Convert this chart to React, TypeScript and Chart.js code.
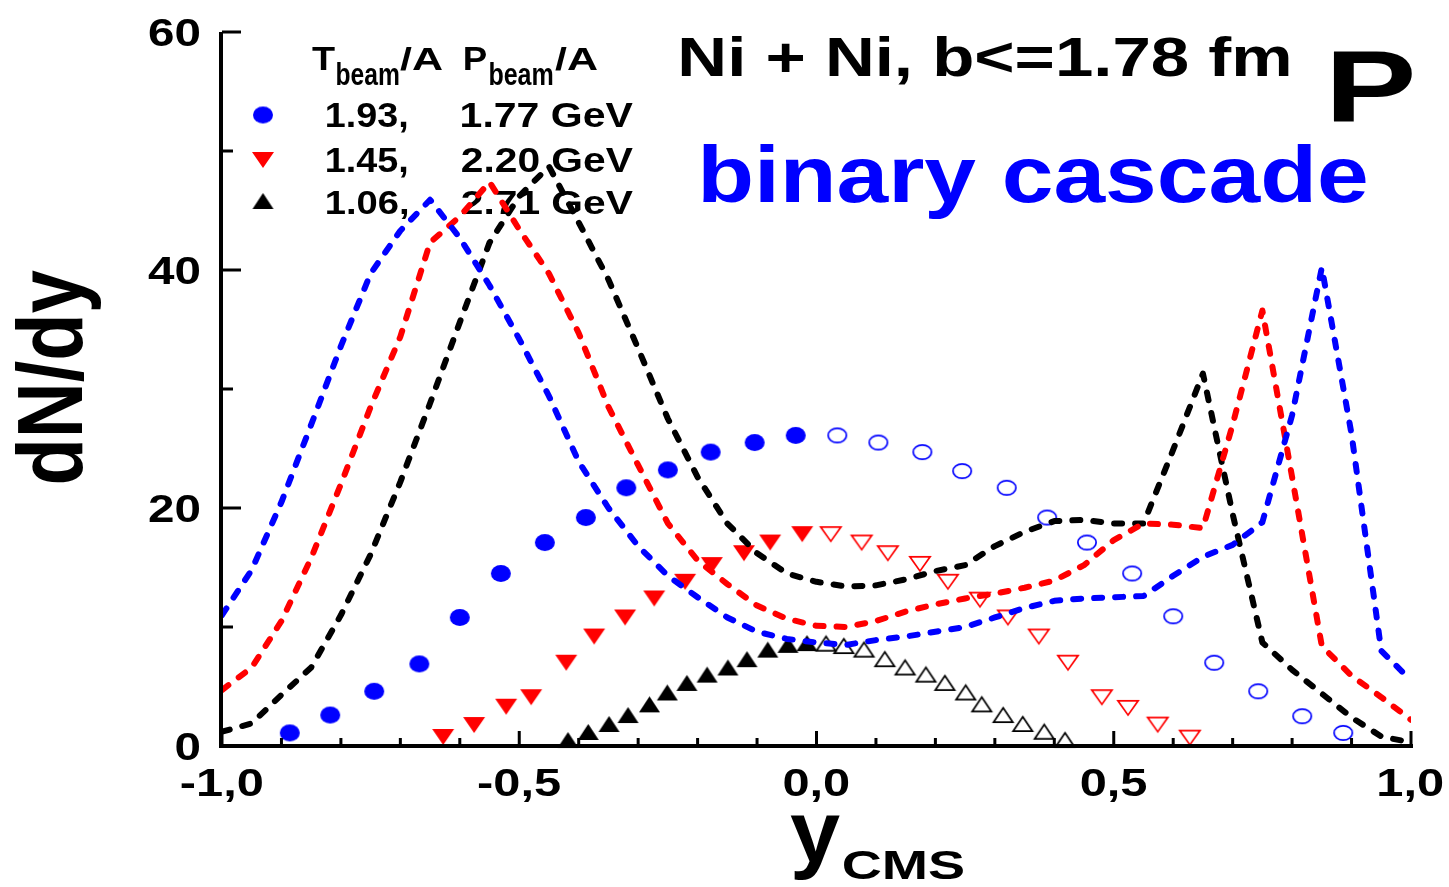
import React, { useEffect, useRef } from "react";
import { Chart, registerables } from "chart.js";

Chart.register(...registerables);

// Rapidity grid of the binary-cascade model curves
const rapidityGrid = [
  -1.0, -0.95, -0.9, -0.85, -0.8, -0.75, -0.7, -0.65, -0.6, -0.55, -0.5,
  -0.45, -0.4, -0.35, -0.3, -0.25, -0.2, -0.15, -0.1, -0.05, 0.0,
  0.05, 0.1, 0.15, 0.2, 0.25, 0.3, 0.35, 0.4, 0.45, 0.5,
  0.55, 0.6, 0.65, 0.7, 0.75, 0.8, 0.85, 0.9, 0.95, 1.0,
];

// Model dN/dy (dashed curves)
const model193 = [
  11.0, 14.8, 20.5, 27.0, 33.6, 39.7, 43.3, 45.9, 42.7, 38.7, 34.2,
  29.4, 23.9, 20.0, 16.8, 14.3, 12.5, 10.8, 9.6, 9.0, 8.7,
  8.5, 8.9, 9.2, 9.6, 10.0, 10.8, 11.6, 12.2, 12.4, 12.5,
  12.6, 14.3, 15.9, 16.9, 18.8, 27.8, 40.2, 26.2, 8.0, 5.5,
];
const model145 = [
  4.7, 6.6, 10.5, 15.8, 22.0, 28.5, 34.4, 42.3, 44.5, 47.4, 43.4,
  39.7, 34.7, 28.5, 23.6, 18.7, 15.6, 13.6, 11.8, 10.7, 10.1,
  10.0, 10.5, 11.3, 11.9, 12.4, 12.8, 13.3, 13.9, 15.2, 17.3,
  18.7, 18.6, 18.3, 27.0, 36.6, 22.6, 8.4, 5.9, 4.1, 2.2,
];
const model106 = [
  1.2, 1.9, 4.3, 6.6, 11.0, 16.1, 22.2, 28.8, 35.6, 42.3, 46.2,
  48.7, 44.0, 39.2, 33.4, 27.5, 22.6, 18.7, 16.2, 14.5, 13.8,
  13.4, 13.5, 14.0, 14.7, 15.2, 16.8, 18.0, 18.9, 19.0, 18.7,
  18.7, 24.9, 31.3, 19.5, 8.7, 6.4, 4.4, 2.4, 0.8, 0.3,
];

// Measured points, 1.93 AGeV (filled) and reflected points (open)
const meas193X = [-0.886, -0.818, -0.744, -0.668, -0.6, -0.531, -0.457, -0.388, -0.32, -0.25, -0.178, -0.104, -0.035];
const meas193Y = [1.1, 2.6, 4.6, 6.9, 10.8, 14.5, 17.1, 19.2, 21.7, 23.2, 24.7, 25.5, 26.1];
const refl193X = [0.035, 0.104, 0.178, 0.245, 0.32, 0.388, 0.455, 0.531, 0.6, 0.669, 0.743, 0.817, 0.886];
const refl193Y = [26.1, 25.5, 24.7, 23.1, 21.7, 19.2, 17.1, 14.5, 10.9, 7.0, 4.6, 2.5, 1.1];

// 1.45 AGeV
const meas145X = [-0.628, -0.576, -0.522, -0.48, -0.421, -0.374, -0.322, -0.273, -0.221, -0.176, -0.122, -0.078, -0.024];
const meas145Y = [0.76, 1.76, 3.3, 4.1, 7.0, 9.2, 10.8, 12.4, 13.8, 15.2, 16.2, 17.1, 17.8];
const refl145X = [0.024, 0.076, 0.12, 0.174, 0.221, 0.275, 0.322, 0.374, 0.423, 0.48, 0.524, 0.574, 0.628];
const refl145Y = [17.8, 17.1, 16.2, 15.3, 13.8, 12.3, 10.8, 9.2, 7.0, 4.1, 3.2, 1.8, 0.7];

// 1.06 AGeV
const meas106X = [-0.418, -0.384, -0.349, -0.317, -0.281, -0.251, -0.218, -0.184, -0.149, -0.117, -0.082, -0.048, -0.016];
const meas106Y = [0.5, 1.18, 1.85, 2.6, 3.5, 4.5, 5.3, 6.0, 6.6, 7.3, 8.1, 8.5, 8.65];
const refl106X = [0.016, 0.046, 0.08, 0.115, 0.149, 0.184, 0.216, 0.251, 0.278, 0.314, 0.347, 0.383, 0.418];
const refl106Y = [8.6, 8.4, 8.1, 7.3, 6.6, 6.0, 5.3, 4.5, 3.5, 2.6, 1.85, 1.2, 0.5];

// Axis ticks and labels
const xMajorTicks = [-1, -0.5, 0, 0.5, 1];
const xTickLabels = ["-1,0", "-0,5", "0,0", "0,5", "1,0"];
const xMinorTicks = [-0.9, -0.8, -0.7, -0.6, -0.4, -0.3, -0.2, -0.1, 0.1, 0.2, 0.3, 0.4, 0.6, 0.7, 0.8, 0.9];
const yMajorTicks = [0, 20, 40, 60];
const yTickLabels = ["0", "20", "40", "60"];
const yMinorTicks = [10, 30, 50];

// Legend rows
const legendTbeam = ["1.93,", "1.45,", "1.06,"];
const legendPbeam = ["1.77 GeV", "2.20 GeV", "2.71 GeV"];

const BLUE = "#0000ff";
const RED = "#ff0000";
const BLACK = "#000000";
const FONT = '"Liberation Sans", Arial, "DejaVu Sans", sans-serif';

type Shape = "ellipse" | "down" | "up";

function makeMarker(shape: Shape, w: number, h: number, color: string, filled: boolean) {
  const pad = 2;
  const c = document.createElement("canvas");
  c.width = Math.ceil(w + pad * 2);
  c.height = Math.ceil(h + pad * 2);
  const g = c.getContext("2d")!;
  const lw = 1.7;
  const inset = filled ? 0 : lw / 2;
  const x0 = pad + inset;
  const y0 = pad + inset;
  const x1 = pad + w - inset;
  const y1 = pad + h - inset;
  g.beginPath();
  if (shape === "ellipse") {
    g.ellipse((x0 + x1) / 2, (y0 + y1) / 2, (x1 - x0) / 2, (y1 - y0) / 2, 0, 0, Math.PI * 2);
  } else if (shape === "down") {
    g.moveTo(x0, y0);
    g.lineTo(x1, y0);
    g.lineTo((x0 + x1) / 2, y1);
    g.closePath();
  } else {
    g.moveTo(x0, y1);
    g.lineTo(x1, y1);
    g.lineTo((x0 + x1) / 2, y0);
    g.closePath();
  }
  if (filled) {
    g.fillStyle = color;
    g.fill();
  } else {
    g.strokeStyle = color;
    g.lineWidth = lw;
    g.stroke();
  }
  return c;
}

// Draws text so that its ink fills the given box (horizontal stretch allowed)
function fitBox(
  ctx: CanvasRenderingContext2D,
  text: string,
  left: number,
  right: number,
  top: number,
  bottom: number,
  color: string,
  withDescent = false
) {
  ctx.save();
  ctx.font = `bold 100px ${FONT}`;
  const m = ctx.measureText(text);
  const asc = m.actualBoundingBoxAscent;
  const desc = withDescent ? m.actualBoundingBoxDescent : 0;
  const size = (100 * (bottom - top)) / (asc + desc);
  ctx.font = `bold ${size}px ${FONT}`;
  const m2 = ctx.measureText(text);
  const inkW = m2.actualBoundingBoxLeft + m2.actualBoundingBoxRight;
  const sx = (right - left) / inkW;
  const baseline = top + m2.actualBoundingBoxAscent;
  ctx.translate(left, baseline);
  ctx.scale(sx, 1);
  ctx.fillStyle = color;
  ctx.textAlign = "left";
  ctx.textBaseline = "alphabetic";
  ctx.fillText(text, m2.actualBoundingBoxLeft, 0);
  ctx.restore();
}

// Tick label with fixed size and horizontal stretch
function stretchedText(
  ctx: CanvasRenderingContext2D,
  text: string,
  x: number,
  baseline: number,
  size: number,
  sx: number,
  align: "center" | "right"
) {
  ctx.save();
  ctx.font = `bold ${size}px ${FONT}`;
  const m = ctx.measureText(text);
  const inkW = (m.actualBoundingBoxLeft + m.actualBoundingBoxRight) * sx;
  const left = align === "center" ? x - inkW / 2 : x - inkW;
  ctx.translate(left, baseline);
  ctx.scale(sx, 1);
  ctx.fillStyle = BLACK;
  ctx.textAlign = "left";
  ctx.textBaseline = "alphabetic";
  ctx.fillText(text, m.actualBoundingBoxLeft, 0);
  ctx.restore();
}

export default function App() {
  const ref = useRef<HTMLCanvasElement>(null);

  useEffect(() => {
    const canvas = ref.current;
    if (!canvas) return;

    const mk = {
      blueFull: makeMarker("ellipse", 20, 17, BLUE, true),
      blueOpen: makeMarker("ellipse", 20, 16, BLUE, false),
      redFull: makeMarker("down", 22, 16, RED, true),
      redOpen: makeMarker("down", 22, 16, RED, false),
      blackFull: makeMarker("up", 21, 16, BLACK, true),
      blackOpen: makeMarker("up", 21, 16, BLACK, false),
    };

    const pts = (xs: number[], ys: number[]) => xs.map((x, i) => ({ x, y: ys[i] }));

    const curve = (ys: number[], color: string) => ({
      data: pts(rapidityGrid, ys),
      showLine: true,
      borderColor: color,
      borderWidth: 6,
      borderDash: [8, 13],
      borderCapStyle: "round" as const,
      borderJoinStyle: "round" as const,
      tension: 0,
      pointRadius: 0,
      fill: false,
    });

    const markers = (xs: number[], ys: number[], img: HTMLCanvasElement) => ({
      data: pts(xs, ys),
      showLine: false,
      pointStyle: img,
      pointRadius: 10,
      clip: false as const,
    });

    const decor = {
      id: "decor",
      beforeDatasetsDraw(chart: Chart) {
        const ctx = chart.ctx;
        // Header texts
        fitBox(ctx, "Ni + Ni, b<=1.78 fm", 681, 1289, 36, 77, BLACK);
        fitBox(ctx, "P", 1333, 1413, 51, 121, BLACK);
        fitBox(ctx, "binary cascade", 703, 1366, 144, 202, BLUE);

        // Legend header
        fitBox(ctx, "T", 312, 335, 47, 70, BLACK);
        fitBox(ctx, "beam", 337, 399, 62, 85, BLACK);
        fitBox(ctx, "/A", 400, 442, 47, 70, BLACK);
        fitBox(ctx, "P", 465, 487, 47, 70, BLACK);
        fitBox(ctx, "beam", 490, 553, 62, 85, BLACK);
        fitBox(ctx, "/A", 555, 597, 47, 70, BLACK);

        // Legend rows
        const rows = [
          { top: 103, base: 127, img: mk.blueFull, cy: 115 },
          { top: 148, base: 172, img: mk.redFull, cy: 160 },
          { top: 191, base: 214, img: mk.blackFull, cy: 201 },
        ];
        rows.forEach((r, i) => {
          ctx.drawImage(r.img, 263 - r.img.width / 2, r.cy - r.img.height / 2);
          fitBox(ctx, legendTbeam[i], 327, 407, r.top, r.base, BLACK);
          fitBox(ctx, legendPbeam[i], 462, 633, r.top, r.base, BLACK);
        });
      },
      afterDatasetsDraw(chart: Chart) {
        const ctx = chart.ctx;
        const xs = chart.scales.x;
        const ys = chart.scales.y;
        const { left, right, top, bottom } = chart.chartArea;

        ctx.save();
        ctx.strokeStyle = BLACK;
        ctx.lineCap = "butt";
        // Axis lines
        ctx.lineWidth = 4;
        ctx.beginPath();
        ctx.moveTo(left - 1, top);
        ctx.lineTo(left - 1, bottom + 2);
        ctx.moveTo(left - 3, bottom);
        ctx.lineTo(right + 2, bottom);
        ctx.stroke();

        // Inward ticks
        ctx.lineWidth = 3;
        ctx.beginPath();
        xMajorTicks.forEach((v) => {
          const px = xs.getPixelForValue(v);
          ctx.moveTo(px, bottom);
          ctx.lineTo(px, bottom - 15);
        });
        xMinorTicks.forEach((v) => {
          const px = xs.getPixelForValue(v);
          ctx.moveTo(px, bottom);
          ctx.lineTo(px, bottom - 8);
        });
        yMajorTicks.forEach((v) => {
          const py = ys.getPixelForValue(v);
          ctx.moveTo(left, py);
          ctx.lineTo(left + 19, py);
        });
        yMinorTicks.forEach((v) => {
          const py = ys.getPixelForValue(v);
          ctx.moveTo(left, py);
          ctx.lineTo(left + 11, py);
        });
        ctx.stroke();
        ctx.restore();

        // Tick labels
        xMajorTicks.forEach((v, i) => {
          stretchedText(ctx, xTickLabels[i], xs.getPixelForValue(v), 796, 39, 1.25, "center");
        });
        yMajorTicks.forEach((v, i) => {
          stretchedText(ctx, yTickLabels[i], 200, ys.getPixelForValue(v) + 14, 39, 1.22, "right");
        });

        // Axis titles
        fitBox(ctx, "y", 790, 840, 815, 879, BLACK, true);
        fitBox(ctx, "CMS", 843, 963, 851, 880, BLACK);
        ctx.save();
        ctx.translate(83, 483);
        ctx.rotate(-Math.PI / 2);
        fitBox(ctx, "dN/dy", 0, 213, -68, 0, BLACK);
        ctx.restore();
      },
    };

    const chart = new Chart(canvas, {
      type: "scatter",
      data: {
        datasets: [
          curve(model193, BLUE),
          curve(model145, RED),
          curve(model106, BLACK),
          markers(meas193X, meas193Y, mk.blueFull),
          markers(refl193X, refl193Y, mk.blueOpen),
          markers(meas145X, meas145Y, mk.redFull),
          markers(refl145X, refl145Y, mk.redOpen),
          markers(meas106X, meas106Y, mk.blackFull),
          markers(refl106X, refl106Y, mk.blackOpen),
        ] as any,
      },
      options: {
        animation: false,
        responsive: false,
        devicePixelRatio: 1,
        events: [],
        layout: { padding: { left: 222, right: 38, top: 32, bottom: 141 } },
        scales: {
          x: { type: "linear", min: -1, max: 1, display: false },
          y: { type: "linear", min: 0, max: 60, display: false },
        },
        plugins: {
          legend: { display: false },
          tooltip: { enabled: false },
        },
      },
      plugins: [decor],
    });

    return () => chart.destroy();
  }, []);

  return (
    <div style={{ position: "absolute", left: 0, top: 0, width: 1449, height: 887, background: "#ffffff" }}>
      <canvas ref={ref} width={1449} height={887} />
    </div>
  );
}
